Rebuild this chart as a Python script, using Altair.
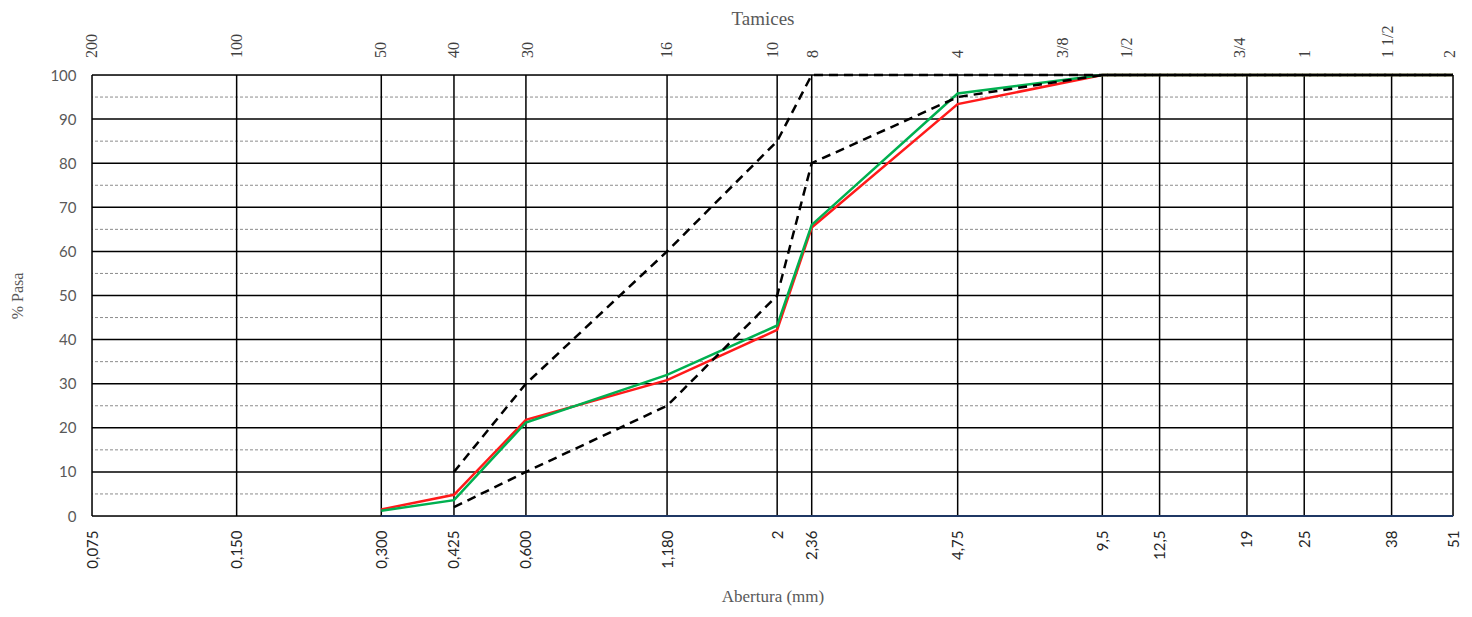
import altair as alt
import pandas as pd

# Sieve openings (mm) and their labels on the bottom axis
sieve_mm = [0.075, 0.15, 0.3, 0.425, 0.6, 1.18, 2, 2.36, 4.75, 9.5, 12.5, 19, 25, 38, 51]
sieve_labels = ["0,075", "0,150", "0,300", "0,425", "0,600", "1,180", "2", "2,36",
                "4,75", "9,5", "12,5", "19", "25", "38", "51"]

# Sieve names (top axis) and where they appear along the opening scale
tamiz_labels = ["200", "100", "50", "40", "30", "16", "10", "8", "4",
                "3/8", "1/2", "3/4", "1", "1 1/2", "2"]
tamiz_pos_mm = [0.075, 0.15, 0.3, 0.425, 0.606, 1.18, 1.96, 2.37, 4.75,
                7.87, 10.7, 18.4, 25.1, 37.3, 50.3]

# % passing series (None = not plotted)
muestra_roja = [None, None, 1.5, 4.8, 21.8, 30.8, 42.2, 65.4, 93.4, 100, 100, 100, 100, 100, 100]
muestra_verde = [None, None, 1.2, 3.6, 21.2, 32.0, 43.2, 66.0, 95.8, 100, 100, 100, 100, 100, 100]
limite_sup = [None, None, None, 10, 30, 60, 85, 100, 100, 100, 100, 100, 100, 100, 100]
limite_inf = [None, None, None, 2, 10, 25, 50, 80, 95, 100, 100, 100, 100, 100, 100]
fondo = [None, None, 0, 0, 0, 0, 0, 0, 0, 0, 0, 0, 0, 0, 0]

major_y = list(range(0, 101, 10))
minor_y = list(range(5, 100, 10))

W, H = 1361, 441

xscale = alt.Scale(type="log", domain=[0.075, 51], nice=False)
yscale = alt.Scale(domain=[0, 100], nice=False, zero=False)


def series_df(vals):
    return pd.DataFrame({"mm": sieve_mm, "pct": vals}).dropna()


label_expr = ("[" + ",".join("'" + l + "'" for l in sieve_labels) + "][indexof(["
              + ",".join(repr(v) for v in sieve_mm) + "], datum.value)]")

x_axis = alt.Axis(values=sieve_mm, labelExpr=label_expr, grid=False, domain=False,
                  ticks=False, labelAngle=270, labelAlign="right", labelBaseline="middle",
                  labelPadding=14, labelFont="Lato", labelFontSize=15, labelColor="#262626",
                  labelOverlap=False, labelBound=False, labelFlush=False,
                  title="Abertura (mm)", titleFont="Liberation Serif", titleFontSize=17,
                  titleFontWeight="normal", titleColor="#595959", titlePadding=20)

y_axis = alt.Axis(values=major_y, grid=False, domain=False, ticks=False,
                  labelPadding=16, labelFont="Lato", labelFontSize=15, labelColor="#595959",
                  title="% Pasa", titleFont="Liberation Serif", titleFontSize=16,
                  titleFontWeight="normal", titleColor="#595959", titlePadding=24)

minor = alt.Chart(pd.DataFrame({"pct": minor_y})).mark_rule(
    color="#8c8c8c", strokeWidth=1, strokeDash=[3, 2]
).encode(y=alt.Y("pct:Q", scale=yscale, axis=y_axis))

major = alt.Chart(pd.DataFrame({"pct": major_y})).mark_rule(
    color="#000000", strokeWidth=1.5
).encode(y=alt.Y("pct:Q", scale=yscale))

vert = alt.Chart(pd.DataFrame({"mm": sieve_mm})).mark_rule(
    color="#000000", strokeWidth=1.5
).encode(x=alt.X("mm:Q", scale=xscale, axis=x_axis))


def line(vals, color, width=2.5, dash=None):
    kw = dict(color=color, strokeWidth=width, clip=False)
    if dash:
        kw["strokeDash"] = dash
    return alt.Chart(series_df(vals)).mark_line(**kw).encode(
        x=alt.X("mm:Q", scale=xscale), y=alt.Y("pct:Q", scale=yscale))


fondo_l = line(fondo, "#1f3864", 2)
roja_l = line(muestra_roja, "#ff1a1a", 2.5)
verde_l = line(muestra_verde, "#00b050", 2.5)
sup_l = line(limite_sup, "#000000", 2.5, [9, 6])
inf_l = line(limite_inf, "#000000", 2.5, [9, 6])

top_text = alt.Chart(pd.DataFrame({"mm": tamiz_pos_mm, "lab": tamiz_labels})).mark_text(
    angle=270, align="left", baseline="middle", font="Liberation Serif", fontSize=16,
    color="#404040", clip=False
).encode(x=alt.X("mm:Q", scale=xscale), y=alt.value(-17), text="lab:N")

top_title = alt.Chart(pd.DataFrame({"t": ["Tamices"]})).mark_text(
    align="center", baseline="alphabetic", font="Liberation Serif", fontSize=19,
    color="#595959", clip=False
).encode(x=alt.value(671), y=alt.value(-50), text="t:N")

chart = alt.layer(minor, major, vert, fondo_l, roja_l, verde_l, sup_l, inf_l,
                  top_text, top_title).properties(
    width=W, height=H,
    autosize=alt.AutoSizeParams(type="none"),
    padding={"left": 84, "top": 67, "right": 8, "bottom": 92},
).configure_view(stroke=None).configure(background="white")

chart.save("out.html", embed_options={"renderer": "svg", "actions": False})
